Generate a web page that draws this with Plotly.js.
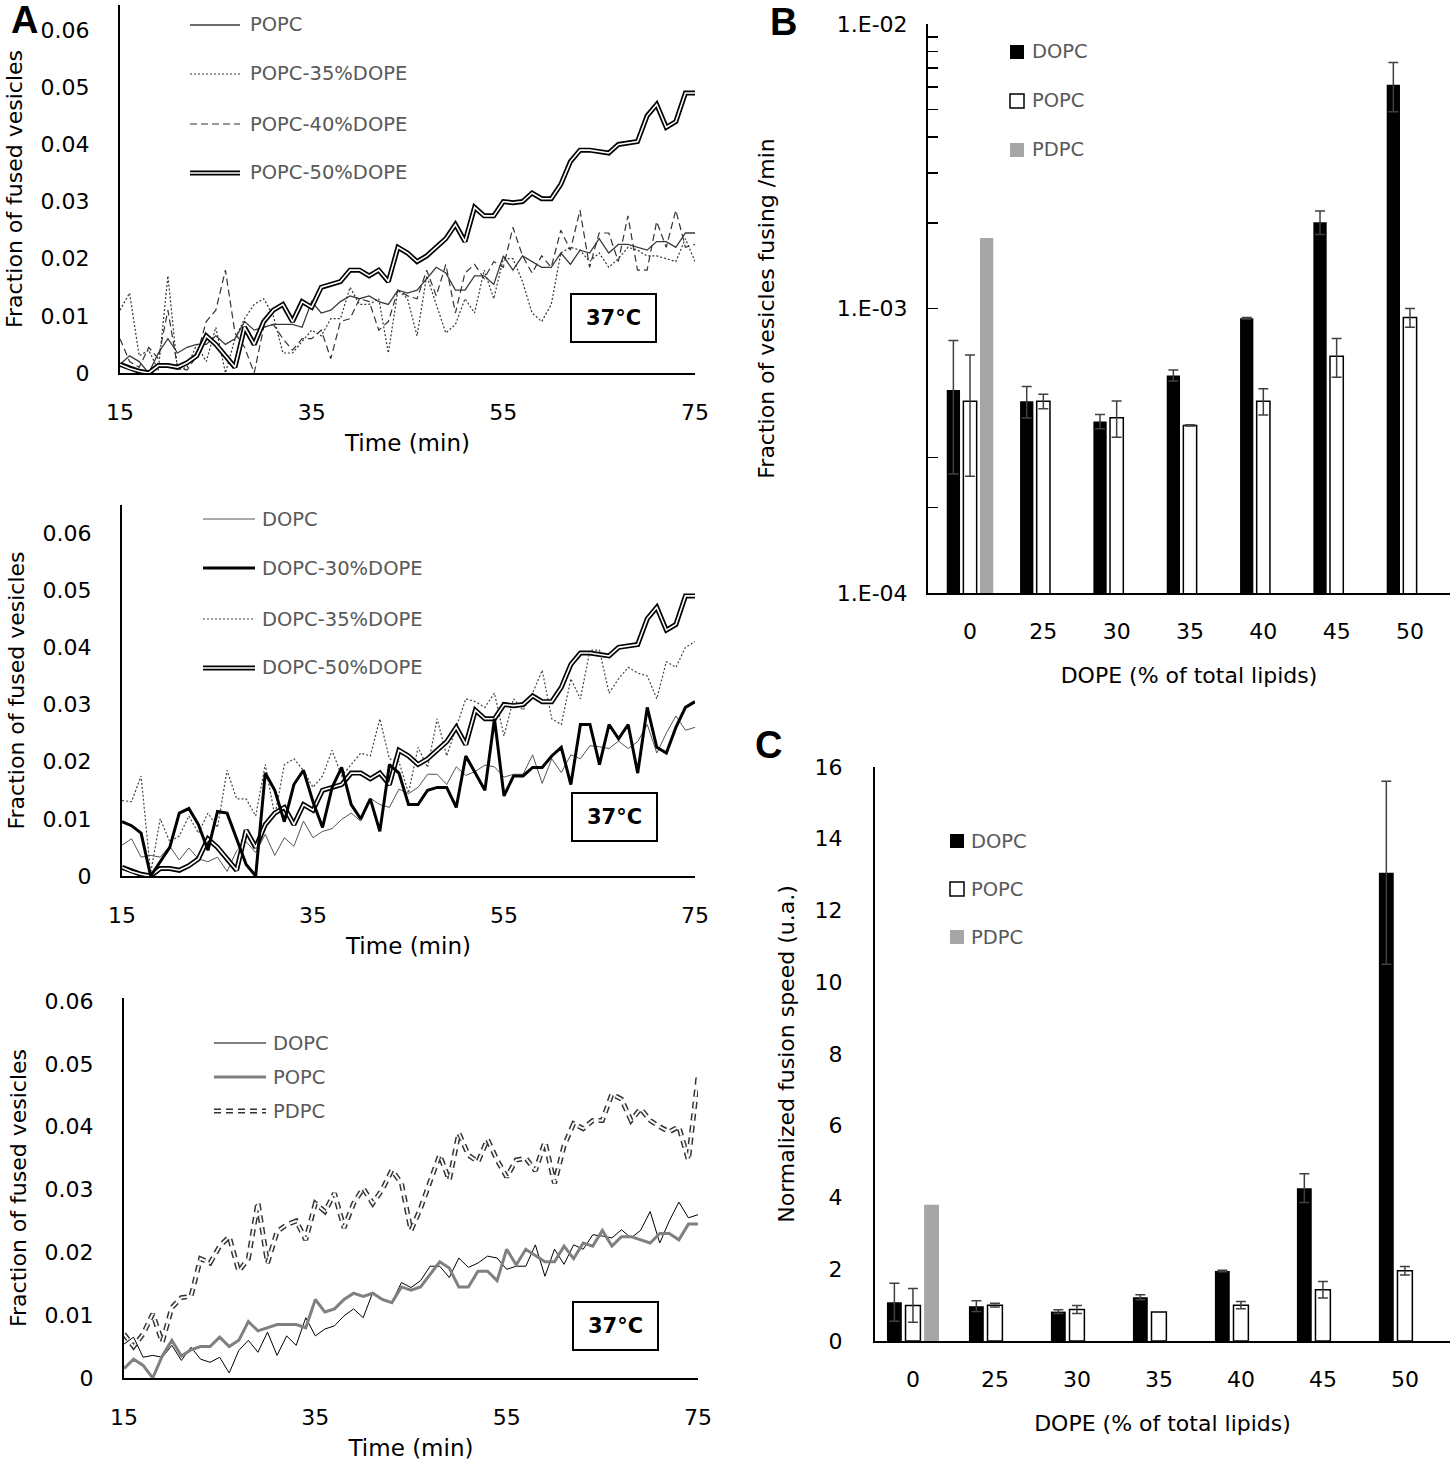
<!DOCTYPE html>
<html>
<head>
<meta charset="utf-8">
<script src="https://cdn.plot.ly/plotly-3.0.1.min.js"></script>
<style>
  body { margin: 0; background: #fff; }
  #chart { width: 1450px; height: 1474px; }
</style>
</head>
<body>
<div id="chart"></div>
<script>
// ---- panel A : time courses (fraction of fused vesicles) ----
const time = [15,16,17,18,19,20,21,22,23,24,25,26,27,28,29,30,31,32,33,34,35,36,37,38,39,40,
  41,42,43,44,45,46,47,48,49,50,51,52,53,54,55,56,57,58,59,60,61,62,63,64,65,66,67,68,69,70,
  71,72,73,74,75];

const popc = [0.0015,0.003,0.002,0.0,0.0035,0.006,0.0035,0.0045,0.005,0.005,
  0.0065,0.005,0.006,0.009,0.0075,0.008,0.0085,0.0085,0.0085,0.008,
  0.0125,0.0105,0.011,0.0125,0.0135,0.013,0.0135,0.0125,0.012,0.0145,
  0.014,0.0145,0.0165,0.0185,0.0175,0.0145,0.0145,0.017,0.017,0.0155,
  0.0205,0.018,0.0205,0.0195,0.0185,0.0185,0.021,0.019,0.0215,0.021,
  0.0235,0.021,0.0225,0.0225,0.022,0.0215,0.023,0.023,0.022,0.0245,0.0245];

const popc35 = [0.011,0.014,0.003,0.004,0.0005,0.017,0.0005,0.001,0.005,0.002,
  0.008,0.0,0.006,0.0095,0.012,0.013,0.01,0.0035,0.0035,0.0055,
  0.0075,0.0065,0.0095,0.0095,0.015,0.012,0.012,0.013,0.0035,0.0145,
  0.013,0.0065,0.017,0.012,0.007,0.0085,0.013,0.0105,0.018,0.013,
  0.02,0.02,0.016,0.0105,0.009,0.012,0.021,0.022,0.0215,0.0195,
  0.021,0.0185,0.02,0.022,0.0215,0.0205,0.0205,0.02,0.0195,0.0235,0.0195];

const popc40 = [0.006,0.002,0.001,0.0045,0.0025,0.011,0.001,0.0005,0.003,0.009,
  0.011,0.018,0.007,0.0045,0.0,0.008,0.0085,0.006,0.004,0.006,
  0.006,0.0075,0.0025,0.009,0.0095,0.013,0.0125,0.0075,0.009,0.0145,
  0.0135,0.013,0.018,0.0135,0.019,0.0105,0.0175,0.019,0.0165,0.0195,
  0.0185,0.0255,0.0205,0.0175,0.0205,0.0185,0.025,0.0215,0.0285,0.0185,
  0.0245,0.0245,0.0195,0.0275,0.018,0.018,0.0265,0.022,0.0285,0.022,0.0225];

// the 50% DOPE curve is the same in the POPC and DOPC plots
const dope50 = [0.0015,0.0008,0.0003,0.0,0.0013,0.0013,0.001,0.0018,0.003,0.0065,
  0.005,0.003,0.001,0.008,0.005,0.009,0.011,0.012,0.009,0.0125,
  0.0115,0.015,0.0155,0.016,0.018,0.018,0.017,0.018,0.016,0.022,
  0.021,0.0195,0.0205,0.022,0.0235,0.026,0.023,0.029,0.0275,0.0275,
  0.030,0.0298,0.030,0.0315,0.0305,0.0305,0.033,0.037,0.039,0.039,
  0.0388,0.0385,0.040,0.0403,0.0405,0.045,0.047,0.043,0.044,0.049,0.049];

const dopc = [0.0054,0.0065,0.0033,0.0036,0.0033,0.0052,0.0028,0.0049,0.003,0.0025,
  0.0033,0.0008,0.0044,0.006,0.0041,0.0073,0.0036,0.0067,0.0052,0.0096,
  0.0067,0.0078,0.0083,0.0099,0.011,0.0096,0.0136,0.0125,0.012,0.0152,
  0.0144,0.0155,0.0178,0.0178,0.016,0.0191,0.0176,0.0183,0.0194,0.0191,
  0.0173,0.0178,0.0178,0.0212,0.0162,0.0205,0.0181,0.0212,0.0205,0.0228,
  0.0226,0.0223,0.0236,0.0223,0.0235,0.0265,0.0215,0.025,0.028,0.0255,0.026];

const dopc30 = [0.0095,0.0088,0.0075,0.0,0.0025,0.005,0.011,0.0118,0.009,0.0045,
  0.0113,0.011,0.0065,0.002,0.0,0.018,0.015,0.0095,0.016,0.0185,
  0.013,0.0085,0.0155,0.019,0.0125,0.01,0.0135,0.0078,0.0195,0.018,
  0.0125,0.0125,0.015,0.0155,0.0155,0.012,0.021,0.018,0.015,0.0275,
  0.014,0.0175,0.0175,0.019,0.019,0.021,0.0225,0.016,0.0265,0.0265,
  0.0195,0.0265,0.024,0.0265,0.018,0.0295,0.0225,0.0215,0.026,0.0295,0.0305];

const dopc35 = [0.0132,0.013,0.0175,0.0005,0.010,0.006,0.007,0.0105,0.0075,0.011,
  0.0085,0.0185,0.0135,0.0135,0.0105,0.0195,0.0105,0.0195,0.0205,0.0185,
  0.0155,0.0175,0.022,0.0175,0.0195,0.0215,0.021,0.0275,0.0205,0.02,
  0.0145,0.0225,0.019,0.0275,0.021,0.026,0.031,0.0305,0.0295,0.032,
  0.0245,0.031,0.029,0.032,0.036,0.0275,0.0265,0.0345,0.031,0.0395,
  0.0395,0.032,0.0345,0.0365,0.0355,0.035,0.031,0.0375,0.0365,0.04,0.041];

const pdpc = [0.007,0.005,0.007,0.0102,0.0057,0.0112,0.0128,0.013,0.019,0.0183,
  0.021,0.0225,0.017,0.019,0.028,0.0183,0.0233,0.0244,0.025,0.022,
  0.0278,0.0265,0.0294,0.0239,0.0278,0.0302,0.0278,0.030,0.0331,0.031,
  0.0235,0.027,0.0313,0.0355,0.0315,0.039,0.0355,0.0344,0.038,0.0347,
  0.032,0.0347,0.035,0.033,0.0376,0.031,0.037,0.0405,0.0397,0.041,
  0.041,0.0452,0.0444,0.041,0.0429,0.041,0.040,0.0392,0.040,0.0347,0.048];

// ---- panels B and C : bars per DOPE content ----
const dopeCats = ['0','25','30','35','40','45','50'];

const dopcRate    = [5.17e-4, 4.72e-4, 4.01e-4, 5.82e-4, 9.24e-4, 2.01e-3, 6.12e-3];
const dopcRateErr = [2.55e-4, 0.6e-4, 0.23e-4, 0.26e-4, 0.05e-4, 0.19e-3, 1.2e-3];
const popcRate    = [4.72e-4, 4.72e-4, 4.13e-4, 3.88e-4, 4.72e-4, 6.79e-4, 9.3e-4];
const popcRateErr = [2.15e-4, 0.28e-4, 0.6e-4, 0.02e-4, 0.5e-4, 1.06e-4, 0.7e-4];
const pdpcRate    = [1.77e-3, null, null, null, null, null, null];

const dopcNorm    = [1.08, 0.97, 0.82, 1.22, 1.95, 4.26, 13.05];
const dopcNormErr = [0.53, 0.15, 0.05, 0.07, 0.02, 0.40, 2.55];
const popcNorm    = [0.99, 1.00, 0.88, 0.81, 1.00, 1.43, 1.96];
const popcNormErr = [0.47, 0.05, 0.11, 0.0, 0.10, 0.23, 0.12];
const pdpcNorm    = [3.8, null, null, null, null, null, null];

const rateTickVals  = [1e-4, 1e-3, 1e-2];
const rateTickText  = ['1.E-04', '1.E-03', '1.E-02'];
const rateMinorVals = [2e-4, 3e-4, 2e-3, 3e-3, 4e-3, 5e-3, 6e-3, 7e-3, 8e-3, 9e-3];

// ---- helpers ----
const W = 1450, H = 1474;
const FONT = 'DejaVu Sans';
const PDPC_DASH = '7px,5px';
function px(x) { return x / W; }
function py(y) { return 1 - y / H; }

function line(name, y, xa, ya, color, width, dash) {
  return {
    type: 'scatter', mode: 'lines', name: name, x: time, y: y,
    xaxis: xa, yaxis: ya, showlegend: false, hoverinfo: 'skip',
    line: {color: color, width: width, dash: dash || 'solid'}
  };
}

function timeX(x0, x1, yname) {
  return {
    domain: [px(x0), px(x1)], anchor: yname, range: [15, 75], tickvals: [15, 35, 55, 75],
    showline: true, linecolor: '#000', linewidth: 2, ticks: '', showgrid: false, zeroline: false,
    tickfont: {size: 22, color: '#000'}, ticklabelstandoff: 19, automargin: false,
    title: {text: 'Time (min)', font: {size: 23, color: '#000'}, standoff: 10}
  };
}
function timeY(y0, y1, top, xname) {
  return {
    domain: [py(y0), py(y1)], anchor: xname, range: [0, top], tick0: 0, dtick: 0.01,
    showline: true, linecolor: '#000', linewidth: 2, ticks: '', showgrid: false, zeroline: false,
    tickfont: {size: 22, color: '#000'}, ticklabelstandoff: 24, automargin: false,
    title: {text: 'Fraction of fused vesicles', font: {size: 22, color: '#000'}, standoff: 12}
  };
}

function bars(name, y, err, xa, ya, fill, outline) {
  const t = {
    type: 'bar', name: name, x: dopeCats, y: y, xaxis: xa, yaxis: ya,
    showlegend: false, hoverinfo: 'skip',
    marker: {color: fill, line: {color: outline || fill, width: outline ? 1.5 : 0}}
  };
  if (err) t.error_y = {type: 'data', array: err, color: '#404040', thickness: 1.5, width: 5};
  return t;
}

const data = [
  // A top
  line('POPC', popc, 'x', 'y', '#3a3a3a', 1.3),
  line('POPC-35%DOPE', popc35, 'x', 'y', '#333', 1.2, '2px,2px'),
  line('POPC-40%DOPE', popc40, 'x', 'y', '#333', 1.2, '7px,4px'),
  line('POPC-50%DOPE', dope50, 'x', 'y', '#000', 5),
  line('POPC-50%DOPE inner', dope50, 'x', 'y', '#fff', 1.6),
  // A middle
  line('DOPC', dopc, 'x2', 'y2', '#555', 1),
  line('DOPC-35%DOPE', dopc35, 'x2', 'y2', '#444', 1.2, '2px,2px'),
  line('DOPC-50%DOPE', dope50, 'x2', 'y2', '#000', 5),
  line('DOPC-50%DOPE inner', dope50, 'x2', 'y2', '#fff', 1.6),
  line('DOPC-30%DOPE', dopc30, 'x2', 'y2', '#000', 3),
  // A bottom
  line('PDPC', pdpc, 'x3', 'y3', '#333', 5, PDPC_DASH),
  line('PDPC inner', pdpc, 'x3', 'y3', '#fff', 2, PDPC_DASH),
  line('DOPC', dopc, 'x3', 'y3', '#000', 1),
  line('POPC', popc, 'x3', 'y3', '#808080', 3),
  // B
  bars('DOPC', dopcRate, dopcRateErr, 'x4', 'y4', '#000'),
  bars('POPC', popcRate, popcRateErr, 'x4', 'y4', '#fff', '#000'),
  bars('PDPC', pdpcRate, null, 'x4', 'y4', '#a6a6a6'),
  // C
  bars('DOPC', dopcNorm, dopcNormErr, 'x5', 'y5', '#000'),
  bars('POPC', popcNorm, popcNormErr, 'x5', 'y5', '#fff', '#000'),
  bars('PDPC', pdpcNorm, null, 'x5', 'y5', '#a6a6a6')
];

// legends drawn by hand so the double lines look like the figure
const shapes = [];
const annotations = [];
function legLine(x0, x1, y, color, width, dash) {
  shapes.push({type: 'line', xref: 'paper', yref: 'paper', x0: px(x0), x1: px(x1), y0: py(y), y1: py(y),
    line: {color: color, width: width, dash: dash || 'solid'}});
}
function legText(x, y, text, size) {
  annotations.push({xref: 'paper', yref: 'paper', x: px(x), y: py(y), xanchor: 'left', yanchor: 'middle',
    text: text, showarrow: false, font: {size: size || 19.5, color: '#595959'}});
}
function legBox(x, y, fill, outline) {
  shapes.push({type: 'rect', xref: 'paper', yref: 'paper', x0: px(x), x1: px(x + 14), y0: py(y - 7), y1: py(y + 7),
    fillcolor: fill, line: {color: outline || fill, width: outline ? 1.5 : 0}});
}
function tempBox(x, y) {
  annotations.push({xref: 'paper', yref: 'paper', x: px(x), y: py(y), xanchor: 'center', yanchor: 'middle',
    text: '<b>37°C</b>', showarrow: false, width: 83, height: 46, borderpad: 0,
    bordercolor: '#000', borderwidth: 2, font: {size: 21, color: '#000'}});
}
function letter(x, y, t) {
  annotations.push({xref: 'paper', yref: 'paper', x: px(x), y: py(y), xanchor: 'center', yanchor: 'middle',
    text: '<b>' + t + '</b>', showarrow: false, font: {family: 'Liberation Sans', size: 38, color: '#000'}});
}

// A top legend
legLine(190, 240, 25, '#3a3a3a', 1.3);           legText(248, 25, 'POPC');
legLine(190, 240, 74, '#333', 1.2, '2px,2px');    legText(248, 74, 'POPC-35%DOPE');
legLine(190, 240, 124, '#333', 1.2, '7px,4px');   legText(248, 124, 'POPC-40%DOPE');
legLine(190, 240, 173, '#000', 5); legLine(190, 240, 173, '#fff', 1.6); legText(248, 173, 'POPC-50%DOPE');
// A middle legend
legLine(203, 255, 519, '#555', 1);                legText(260, 519, 'DOPC');
legLine(203, 255, 568, '#000', 3);                legText(260, 568, 'DOPC-30%DOPE');
legLine(203, 255, 619, '#444', 1.2, '2px,2px');   legText(260, 619, 'DOPC-35%DOPE');
legLine(203, 255, 668, '#000', 5); legLine(203, 255, 668, '#fff', 1.6); legText(260, 668, 'DOPC-50%DOPE');
// A bottom legend
legLine(214, 266, 1043, '#000', 1);               legText(271, 1043, 'DOPC');
legLine(214, 266, 1077, '#808080', 3);            legText(271, 1077, 'POPC');
legLine(214, 266, 1111, '#333', 5, PDPC_DASH); legLine(214, 266, 1111, '#fff', 2, PDPC_DASH); legText(271, 1111, 'PDPC');
// B legend
legBox(1010, 52, '#000');          legText(1030, 52, 'DOPC');
legBox(1010, 101, '#fff', '#000'); legText(1030, 101, 'POPC');
legBox(1010, 150, '#a6a6a6');      legText(1030, 150, 'PDPC');
// C legend
legBox(950, 841, '#000');          legText(969, 841, 'DOPC');
legBox(950, 889, '#fff', '#000');  legText(969, 889, 'POPC');
legBox(950, 937, '#a6a6a6');       legText(969, 937, 'PDPC');

tempBox(613, 318);
tempBox(614, 817);
tempBox(615, 1326);

letter(24, 20, 'A');
letter(783, 22, 'B');
letter(768, 745, 'C');

const catAxis = (x0, lo, hi, yname) => ({
  domain: [px(x0), 1], anchor: yname, type: 'category', range: [lo, hi],
  showline: true, linecolor: '#000', linewidth: 2, ticks: '', showgrid: false, zeroline: false,
  tickfont: {size: 22, color: '#000'}, ticklabelstandoff: 18, automargin: false,
  title: {text: 'DOPE (% of total lipids)', font: {size: 22, color: '#000'}, standoff: 24}
});

const layout = {
  width: W, height: H,
  margin: {l: 0, r: 0, t: 0, b: 0},
  paper_bgcolor: '#fff', plot_bgcolor: 'rgba(0,0,0,0)',
  font: {family: FONT, color: '#000'},
  showlegend: false,
  barmode: 'group', bargap: 0.32, bargroupgap: 0.2,
  xaxis: timeX(120, 695, 'y'),
  yaxis: timeY(373, 5, 0.0644, 'x'),
  xaxis2: timeX(122, 695, 'y2'),
  yaxis2: timeY(876, 505, 0.0649, 'x2'),
  xaxis3: timeX(124, 698, 'y3'),
  yaxis3: timeY(1378, 998, 0.0605, 'x3'),
  xaxis4: catAxis(928, -0.573, 6.546, 'y4'),
  yaxis4: {
    domain: [py(593), py(24)], anchor: 'x4', type: 'log', range: [-4, -2],
    tickvals: rateTickVals, ticktext: rateTickText,
    ticks: 'inside', ticklen: 10, tickwidth: 1.5, tickcolor: '#000',
    minor: {tickvals: rateMinorVals, ticks: 'inside', ticklen: 10, tickwidth: 1.5, tickcolor: '#000', showgrid: false},
    showline: true, linecolor: '#000', linewidth: 2, showgrid: false, zeroline: false,
    tickfont: {size: 22, color: '#000'}, ticklabelstandoff: 14, automargin: false,
    title: {text: 'Fraction of vesicles fusing /min', font: {size: 22, color: '#000'}, standoff: 56}
  },
  xaxis5: catAxis(875, -0.463, 6.55, 'y5'),
  yaxis5: {
    domain: [py(1341), py(767)], anchor: 'x5', range: [0, 16], dtick: 2,
    showline: true, linecolor: '#000', linewidth: 2, ticks: '', showgrid: false, zeroline: false,
    tickfont: {size: 22, color: '#000'}, ticklabelstandoff: 26, automargin: false,
    title: {text: 'Normalized fusion speed (u.a.)', font: {size: 22, color: '#000'}, standoff: 14}
  },
  shapes: shapes,
  annotations: annotations
};

Plotly.newPlot('chart', data, layout, {staticPlot: true, displayModeBar: false});
</script>
</body>
</html>
